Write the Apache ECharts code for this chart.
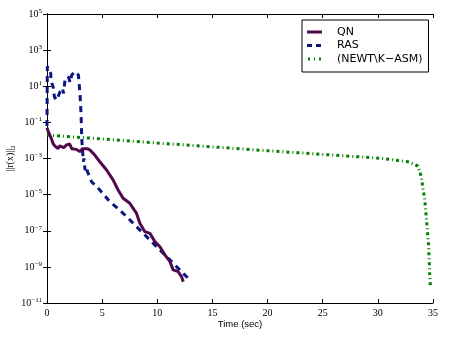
<!DOCTYPE html>
<html>
<head>
<meta charset="utf-8">
<script src="https://cdn.jsdelivr.net/npm/echarts@6/dist/echarts.min.js"></script>
<style>html,body{margin:0;padding:0;background:#fff}#c{width:450px;height:338px}</style>
</head>
<body>
<div id="c"></div>
<script>
// ---- data ----
const qnTime = [0,0.11,0.25,0.4,0.54,0.70,0.85,1.0,1.15,1.31,1.52,1.76,1.93,2.06,2.24,2.36,2.67,2.97,3.24,3.42,3.65,3.88,4.33,4.79,5.40,5.99,6.45,6.90,7.51,8.12,8.42,8.87,9.33,9.78,10.24,10.69,11.15,11.44,11.90,12.21,12.35];
const qnRes  = [5.0e-2,3.2e-2,2.5e-2,1.26e-2,6.9e-3,5.0e-3,6.3e-3,3.6e-3,5.0e-3,5.6e-3,4.0e-3,5.6e-3,4.5e-3,6.3e-3,3.5e-3,3.0e-3,3.2e-3,2.4e-3,3.5e-3,4.2e-3,3.5e-3,3.0e-3,1.55e-3,6.6e-4,2.3e-4,6.5e-5,1.8e-5,6.3e-6,3.3e-6,9.1e-7,2.6e-7,8.9e-8,7.2e-8,2.5e-8,1.3e-8,4.6e-9,1.95e-9,6.8e-10,5.4e-10,2.8e-10,1.5e-10];

const rasTime = [0,0.03,0.18,0.34,0.36,0.58,0.67,0.88,1.18,1.40,1.50,1.63,1.94,2.10,2.24,2.54,2.70,2.85,3.0,3.09,3.15,3.21,3.30,3.35,3.45,3.55,3.65,4.04,4.79,5.69,6.60,7.51,8.27,8.88,9.48,10.08,10.69,11.30,11.90,12.51,12.96];
const rasRes  = [6.3e-2,126,98,52,22,7.8,2.6,1.7,5.0,7.8,4.0,22,34,16,42,65,79,42,3.2,0.26,1.3e-2,3.6e-3,6.6e-4,1.0e-3,2.3e-4,3.5e-4,2.0e-4,5.2e-5,1.8e-5,4.1e-6,1.4e-6,4.0e-7,1.35e-7,5.8e-8,2.5e-8,1.07e-8,4.6e-9,1.95e-9,8.3e-10,3.5e-10,1.9e-10];

const newtTime = [0,10,20,30.32,32.73,33.18,33.64,33.79,33.94,34.09,34.24,34.33,34.42,34.49,34.58,34.63,34.67,34.70,34.76];
const newtRes  = [2.0e-2,7.2e-3,2.7e-3,1.02e-3,6.6e-4,5.2e-4,3.8e-4,1.9e-4,1.0e-4,2.2e-5,6.3e-6,1.4e-6,4.0e-7,8.9e-8,2.5e-8,5.6e-9,1.6e-9,3.5e-10,9.1e-11];

const seriesNames = ['QN', 'RAS', '(NEWT\\K\u2212ASM)'];
const xTicks = [0, 5, 10, 15, 20, 25, 30, 35];
const yExpTicks = [-11, -9, -7, -5, -3, -1, 1, 3, 5];
const xLabel = 'Time (sec)';
// --------------------------------------

function pairs(xs, ys) { return xs.map((x, i) => [x, ys[i]]); }

const serif = 'Liberation Serif';
const sans = 'DejaVu Sans';

const chart = echarts.init(document.getElementById('c'), null, {renderer: 'canvas'});

const axisLine = {show: true, lineStyle: {color: '#000', width: 1}};
const tick = {show: true, inside: true, length: 4, lineStyle: {color: '#000', width: 1}};

function yFmt(v) {
  const e = Math.round(Math.log10(v));
  return '{b|10}{s|' + String(e).replace('-', '\u2212') + '}';
}

// legend sample glyphs (15 x 3 box)
const icons = [
  'path://M0,0 L15,0 L15,3 L0,3 Z',
  'path://M0,0 L5,0 L5,3 L0,3 Z M9,0 L14,0 L14,3 L9,3 Z M15,0 L15,3 L15,3 Z',
  'path://M1,0 L3,0 L3,3 L1,3 Z M7,0 L8,0 L8,3 L7,3 Z M12,0 L14,0 L14,3 L12,3 Z M0,0 L0,3 Z M15,0 L15,3 Z'
];

chart.setOption({
  animation: false,
  grid: {left: 47, right: 17, top: 14, bottom: 35, containLabel: false, outerBoundsMode: 'none'},
  legend: {
    show: true,
    orient: 'vertical',
    left: 302, top: 20,
    padding: [6, 6, 7, 5],
    borderColor: '#000', borderWidth: 1,
    itemWidth: 15, itemHeight: 3, itemGap: 1.5,
    backgroundColor: '#fff',
    textStyle: {fontFamily: sans, fontSize: 11, color: '#000', padding: [0, 0, 0, 10], lineHeight: 12},
    data: seriesNames.map((n, i) => ({name: n, icon: icons[i]}))
  },
  xAxis: [
    {type: 'value', min: 0, max: 35, interval: 5, position: 'bottom',
     name: xLabel, nameLocation: 'middle', nameGap: 16, nameMoveOverlap: false,
     nameTextStyle: {fontFamily: 'Liberation Sans', fontSize: 9.5, color: '#000'},
     axisLine: axisLine, axisTick: tick, splitLine: {show: false},
     axisLabel: {fontFamily: serif, fontSize: 10, color: '#000', margin: 5}},
    {type: 'value', min: 0, max: 35, interval: 5, position: 'top',
     axisLine: axisLine, axisTick: tick, splitLine: {show: false},
     axisLabel: {show: false}}
  ],
  yAxis: [
    {type: 'log', logBase: 10, min: 1e-11, max: 1e5, interval: 2, position: 'left',
     name: '||r(x)||{s|2}', nameLocation: 'middle', nameGap: 30, nameMoveOverlap: false,
     nameTextStyle: {fontFamily: serif, fontSize: 10, color: '#000',
       rich: {s: {fontFamily: serif, fontSize: 7, color: '#000', padding: [6, 0, 0, 0]}}},
     axisLine: axisLine, axisTick: tick, splitLine: {show: false},
     axisLabel: {formatter: yFmt, margin: 5,
       rich: {b: {fontFamily: serif, fontSize: 10, color: '#000'},
              s: {fontFamily: serif, fontSize: 7, color: '#000', padding: [0, 0, 6, 0]}}}},
    {type: 'log', logBase: 10, min: 1e-11, max: 1e5, interval: 2, position: 'right',
     axisLine: axisLine, axisTick: tick, splitLine: {show: false},
     axisLabel: {show: false}}
  ],
  series: [
    {name: seriesNames[0], type: 'line', data: pairs(qnTime, qnRes), showSymbol: false, symbol: 'none',
     lineStyle: {color: '#500a4b', width: 3}, itemStyle: {color: '#500a4b'}, z: 3},
    {name: seriesNames[1], type: 'line', data: pairs(rasTime, rasRes), showSymbol: false, symbol: 'none',
     lineStyle: {color: '#0a1580', width: 3, type: [6, 5]}, itemStyle: {color: '#0a1580'}, z: 2},
    {name: seriesNames[2], type: 'line', data: pairs(newtTime, newtRes), showSymbol: false, symbol: 'none',
     lineStyle: {color: '#008000', width: 3, type: [3, 3, 1, 3]}, itemStyle: {color: '#008000'}, z: 1}
  ]
});
</script>
</body>
</html>
